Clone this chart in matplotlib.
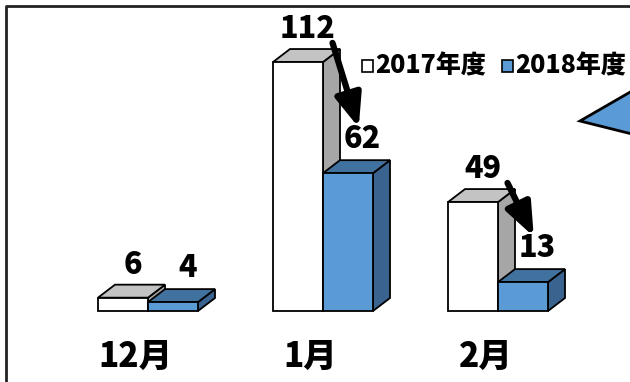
import matplotlib
matplotlib.use("Agg")
import matplotlib.pyplot as plt
from matplotlib.patches import Polygon, Rectangle
import numpy as np

plt.rcParams['font.family'] = ['Noto Sans CJK JP', 'DejaVu Sans']

# data
months = ["12月", "1月", "2月"]
fy2017 = [6, 112, 49]
fy2018 = [4, 62, 13]
series_names = ["2017年度", "2018年度"]

# colours (front, top, side)
c17 = ("white", "#c3c3c3", "#a6a6a6")
c18 = ("#5b9bd5", "#41729f", "#3a6390")

W, H = 630, 382
fig = plt.figure(figsize=(W / 100, H / 100), dpi=100)
ax = fig.add_axes([0, 0, 1, 1])
# one group unit = 175 px, one value unit = 2.223 px
ax.set_xlim(-98 / 175, (W - 98) / 175)
ax.set_ylim(-(H - 311) / 2.223, 311 / 2.223)
ax.axis("off")

bw = 50 / 175          # bar width
ddx = 17 / 175         # depth offset x
ddy = 13 / 2.223       # depth offset y


def bar3d(x, v, cols, z):
    front, top, side = cols
    ax.add_patch(Polygon([(x + bw, 0), (x + bw + ddx, ddy), (x + bw + ddx, v + ddy), (x + bw, v)],
                         closed=True, fc=side, ec="black", lw=1.3, zorder=z))
    ax.add_patch(Polygon([(x, v), (x + ddx, v + ddy), (x + bw + ddx, v + ddy), (x + bw, v)],
                         closed=True, fc=top, ec="black", lw=1.3, zorder=z))
    ax.add_patch(Rectangle((x, 0), bw, v, fc=front, ec="black", lw=1.3, zorder=z))


num_font = dict(fontsize=22, fontweight="heavy", ha="center", va="center")
for i, (a, b) in enumerate(zip(fy2017, fy2018)):
    bar3d(i, a, c17, 2)
    bar3d(i + bw, b, c18, 3)
    ax.text(i + 0.2, a + 15, str(a), zorder=5, **num_font)
    ax.text(i + 0.51, b + 15.5, str(b), zorder=5, **num_font)
    ax.text(i + 0.215, -20.5, months[i], fontsize=24, fontweight="heavy",
            ha="center", va="center", zorder=5)
    if a - b > 20:
        ax.annotate("", xy=(i + 0.49, b + 20.5), xytext=(i + 0.34, a + 8.6),
                    arrowprops=dict(arrowstyle="-|>,head_length=1.0,head_width=0.4",
                                    lw=4.5, color="black", mutation_scale=20,
                                    shrinkA=0, shrinkB=0), zorder=6)

# legend
lx = [362, 502]
for k, name in enumerate(series_names):
    fc = "white" if k == 0 else "#5b9bd5"
    fig.patches.append(Rectangle((lx[k] / W, 1 - 72 / H), 11 / W, 12 / H, fc=fc, ec="black",
                                 lw=1.2, transform=fig.transFigure, figure=fig))
    fig.text((lx[k] + 13) / W, 1 - 65 / H, name, fontsize=18, fontweight="heavy",
             ha="left", va="center")

# triangle callout at right edge
fig.patches.append(Polygon([(580 / W, 1 - 121 / H), (632 / W, 1 - 91 / H), (632 / W, 1 - 134 / H)],
                           closed=True, fc="#5b9bd5", ec="black", lw=2,
                           transform=fig.transFigure, figure=fig))

# frame
fig.lines.append(plt.Line2D([6 / W, 6 / W, 1], [0, 1 - 6 / H, 1 - 6 / H], color="#222222", lw=2,
                            transform=fig.transFigure, figure=fig))

fig.savefig("out.png", dpi=100)
